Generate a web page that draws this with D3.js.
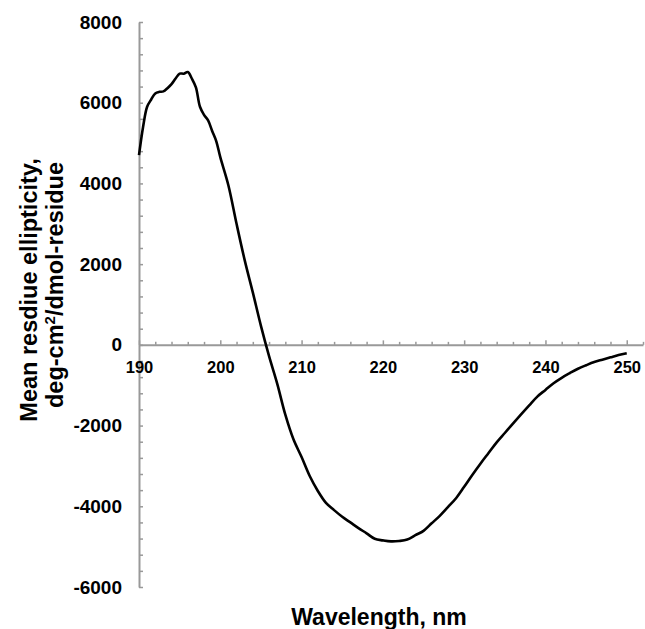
<!DOCTYPE html>
<html>
<head>
<meta charset="utf-8">
<script src="https://cdn.jsdelivr.net/npm/d3@7"></script>
<style>
  body { margin: 0; background: #fff; }
  svg { display: block; font-family: "Liberation Sans", Arial, sans-serif; }
</style>
</head>
<body>
<div id="chart"></div>
<script>
// CD spectrum
var wavelengths = [190, 190.5, 191, 191.5, 192, 192.5, 193, 193.5, 194, 194.5, 195, 195.5, 196, 196.5, 197, 197.5, 198, 198.5, 199, 199.5, 200,
  201, 202, 203, 204, 205, 206, 207, 208, 209, 210, 211, 212, 213, 214, 215, 216, 217, 218, 219, 220,
  221, 222, 223, 224, 225, 226, 227, 228, 229, 230, 231, 232, 233, 234, 235, 236, 237, 238, 239, 240,
  241, 242, 243, 244, 245, 246, 247, 248, 249, 250];
var ellipticity = [4700, 5400, 5900, 6080, 6230, 6270, 6280, 6360, 6460, 6600, 6720, 6720, 6760, 6600, 6380, 5900, 5700, 5560, 5300, 5050, 4650,
  3950, 3000, 2100, 1300, 470, -280, -960, -1730, -2340, -2780, -3250, -3620, -3915, -4095, -4260, -4400, -4540, -4670, -4805, -4845,
  -4870, -4860, -4825, -4715, -4608, -4422, -4236, -4020, -3800, -3517, -3224, -2945, -2680, -2416, -2184, -1952, -1724, -1501, -1282, -1117,
  -951, -816, -700, -592, -505, -426, -367, -310, -254, -208];

var yTicks = d3.range(-6000, 8001, 400);
var xTicks = d3.range(190, 253, 2);

var width = 645, height = 629;
var axisColor = "#999";

var svg = d3.select("#chart").append("svg")
  .attr("width", width)
  .attr("height", height);

var x = d3.scaleLinear().domain([190, 252]).range([139, 643]);
var y = d3.scaleLinear().domain([-6000, 8000]).range([587, 22]);

// y axis, ticks point inward
var yAxis = svg.append("g")
  .attr("transform", "translate(" + x(190) + ",0)")
  .call(d3.axisLeft(y)
    .tickValues(yTicks)
    .tickSize(-4)
    .tickSizeOuter(0)
    .tickPadding(17)
    .tickFormat(function (d) { return d % 2000 === 0 ? d : ""; }));
yAxis.select(".domain").attr("stroke", axisColor).attr("stroke-width", 2);
yAxis.selectAll(".tick line").attr("stroke", axisColor).attr("stroke-width", 1.5);
yAxis.selectAll(".tick text")
  .attr("fill", "#000")
  .style("font-size", "19px")
  .style("font-weight", "bold");

// x axis sits on zero
var xAxis = svg.append("g")
  .attr("transform", "translate(0," + y(0) + ")")
  .call(d3.axisBottom(x)
    .tickValues(xTicks)
    .tickSize(-3)
    .tickSizeOuter(0)
    .tickPadding(16)
    .tickFormat(function (d) { return d % 10 === 0 && d <= 250 ? d : ""; }));
xAxis.select(".domain").attr("stroke", axisColor).attr("stroke-width", 2);
xAxis.selectAll(".tick line")
  .attr("stroke", axisColor)
  .attr("stroke-width", 1.5)
  .attr("y2", function (d) { return d % 10 === 0 ? -4.5 : -3; });
xAxis.selectAll(".tick text")
  .attr("fill", "#000")
  .style("font-size", "16.5px")
  .style("font-weight", "bold");

// the curve
var line = d3.line()
  .x(function (d, i) { return x(wavelengths[i]); })
  .y(function (d) { return y(d); })
  .curve(d3.curveCatmullRom);

svg.append("path")
  .datum(ellipticity)
  .attr("fill", "none")
  .attr("stroke", "#000")
  .attr("stroke-width", 2.6)
  .attr("stroke-linejoin", "round")
  .attr("d", line);

// axis titles
svg.append("text")
  .attr("x", 379)
  .attr("y", 625)
  .attr("text-anchor", "middle")
  .style("font-size", "23px")
  .style("font-weight", "bold")
  .text("Wavelength, nm");

svg.append("text")
  .attr("transform", "translate(37,290) rotate(-90)")
  .attr("text-anchor", "middle")
  .style("font-size", "23.5px")
  .style("font-weight", "bold")
  .text("Mean resdiue ellipticity,");

var t2 = svg.append("text")
  .attr("transform", "translate(63,285) rotate(-90)")
  .attr("text-anchor", "middle")
  .style("font-size", "23.5px")
  .style("font-weight", "bold");
t2.append("tspan").text("deg-cm");
t2.append("tspan").attr("dy", -8).style("font-size", "15px").text("2");
t2.append("tspan").attr("dy", 8).text("/dmol-residue");
</script>
</body>
</html>
